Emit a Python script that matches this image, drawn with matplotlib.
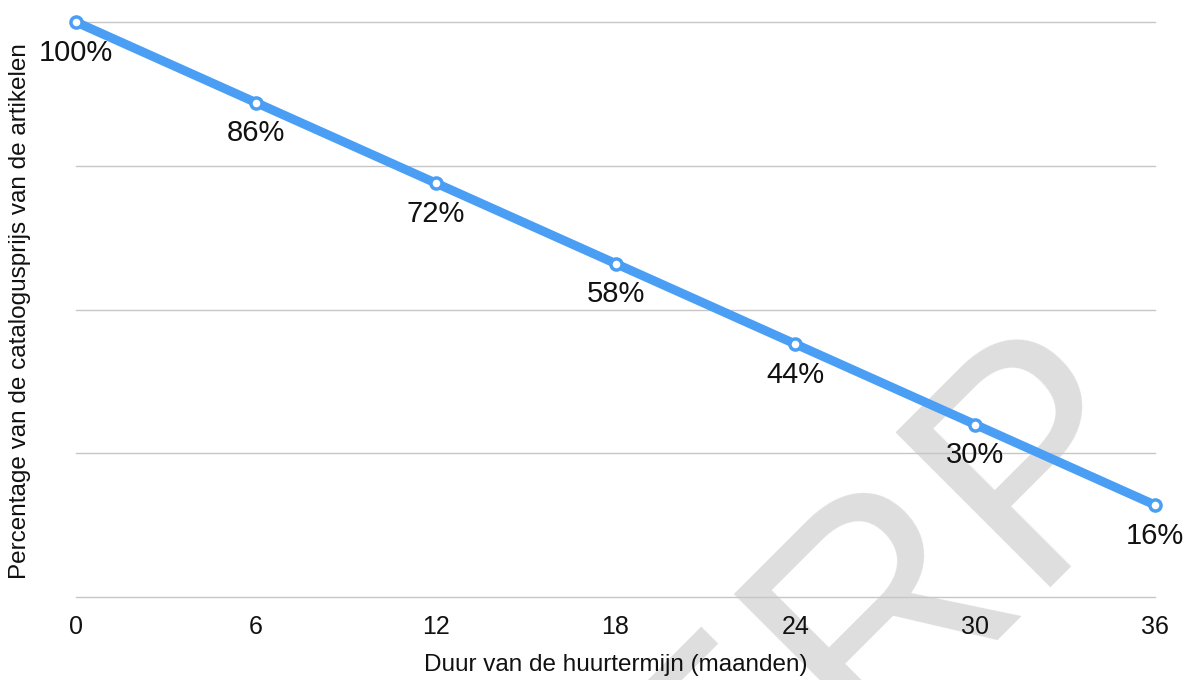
import matplotlib.pyplot as plt

plt.rcParams['font.family'] = ['Liberation Sans', 'DejaVu Sans']

# data
maanden = [0, 6, 12, 18, 24, 30, 36]
percentage = [100, 86, 72, 58, 44, 30, 16]
labels = ["100%", "86%", "72%", "58%", "44%", "30%", "16%"]
grid_waarden = [0, 25, 50, 75, 100]

fig = plt.figure(figsize=(11.86, 6.8), dpi=100)
ax = fig.add_axes([0.0641, 0.122, 0.9098, 0.8456])

# watermerk
ax.text(0.796, 0.018, "ERP", transform=fig.transFigure, fontsize=228,
        rotation=45, rotation_mode='anchor', ha='center', va='baseline',
        color='#dedede', zorder=1, clip_on=False)

for g in grid_waarden:
    ax.axhline(g, color='#c6c6c6', lw=1, zorder=1.5, clip_on=False)

ax.plot(maanden, percentage, color='#4a9ff5', lw=6.5, marker='o', ms=8,
        mfc='white', mec='#4a9ff5', mew=2.5, zorder=3, clip_on=False,
        solid_capstyle='round')

for x, y, t in zip(maanden, percentage, labels):
    ax.annotate(t, (x, y), xytext=(0, -22), textcoords='offset points',
                ha='center', va='center', fontsize=21, color='#111111', zorder=4)

ax.set_xlim(0, 36)
ax.set_ylim(0, 100)
ax.set_xticks(maanden)
ax.set_yticks([])
ax.tick_params(axis='x', length=0, pad=13, labelsize=18, colors='#111111')
for s in ax.spines.values():
    s.set_visible(False)

ax.set_xlabel("Duur van de huurtermijn (maanden)", fontsize=17.5, labelpad=11, color='#111111')
fig.text(0.017, 0.543, "Percentage van de catalogusprijs van de artikelen",
         rotation=90, ha='center', va='center', fontsize=17.5, color='#111111')

fig.savefig("out.png", dpi=100)
